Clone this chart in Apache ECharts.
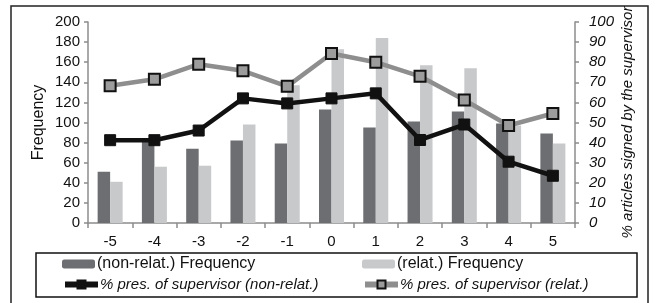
<!DOCTYPE html>
<html>
<head>
<meta charset="utf-8">
<script src="https://cdn.jsdelivr.net/npm/echarts@6/dist/echarts.min.js"></script>
<style>
html,body{margin:0;padding:0;background:#fff;}
#chart{width:657px;height:303px;}
</style>
</head>
<body>
<div id="chart"></div>
<script>
var categories = ['-5', '-4', '-3', '-2', '-1', '0', '1', '2', '3', '4', '5'];
var freqNonRelat = [51, 82, 74, 82, 79, 113, 95, 101, 111, 99, 89];
var freqRelat = [41, 56, 57, 98, 137, 173, 184, 157, 154, 97, 79];
var presNonRelat = [41.2, 41.2, 46, 62, 59.5, 62, 64.5, 41.3, 49, 30.5, 23.5];
var presRelat = [68.3, 71.5, 79, 75.7, 68, 84.3, 80, 73, 61.2, 48.5, 54.5];

var FONT = '"Liberation Sans", Arial, sans-serif';

var chart = echarts.init(document.getElementById('chart'));

// one legend per item so the two columns line up like the original box
function legendAt(name, left, top, isLine) {
	return {
		data: [name],
		left: left,
		top: top,
		padding: 0,
		itemWidth: 33,
		itemHeight: isLine ? 10 : 9,
		itemGap: 0,
		lineStyle: {width: 6},
		textStyle: {
			fontFamily: FONT,
			fontSize: isLine ? 15 : 16,
			color: '#111',
			fontStyle: isLine ? 'italic' : 'normal',
			padding: [0, 0, 0, -3]
		}
	};
}

chart.setOption({
	animation: false,
	grid: {
		left: 88,
		right: 82,
		top: 22,
		bottom: 80
	},
	graphic: [
		{
			type: 'rect',
			shape: {x: 11, y: 6, width: 637, height: 310},
			style: {fill: 'none', stroke: '#222', lineWidth: 1.5}
		},
		{
			type: 'rect',
			shape: {x: 36, y: 253, width: 601, height: 44},
			style: {fill: 'none', stroke: '#111', lineWidth: 1.5}
		}
	],
	legend: [
		legendAt('(non-relat.) Frequency', 62, 256, false),
		legendAt('(relat.) Frequency', 362, 256, false),
		legendAt('% pres. of supervisor (non-relat.)', 62, 277, true),
		legendAt('% pres. of supervisor (relat.)', 362, 277, true)
	],
	xAxis: {
		type: 'category',
		data: categories,
		axisLine: {lineStyle: {color: '#8c8c8c', width: 1.5}},
		axisTick: {show: true, length: 5, lineStyle: {color: '#8c8c8c', width: 1.5}},
		axisLabel: {
			fontFamily: FONT,
			fontSize: 15,
			color: '#111',
			margin: 11
		}
	},
	yAxis: [
		{
			type: 'value',
			min: 0,
			max: 200,
			interval: 20,
			name: 'Frequency',
			nameLocation: 'middle',
			nameGap: 41,
			nameMoveOverlap: false,
			nameTextStyle: {fontFamily: FONT, fontSize: 16, color: '#111'},
			axisLine: {show: true, lineStyle: {color: '#8c8c8c', width: 1.5}},
			axisTick: {show: true, length: 4, lineStyle: {color: '#8c8c8c', width: 1.5}},
			axisLabel: {fontFamily: FONT, fontSize: 15, color: '#111', margin: 8},
			splitLine: {show: false}
		},
		{
			type: 'value',
			min: 0,
			max: 100,
			interval: 10,
			position: 'right',
			name: '% articles signed by the supervisor',
			nameLocation: 'middle',
			nameGap: 45,
			nameRotate: 90,
			nameMoveOverlap: false,
			nameTextStyle: {fontFamily: FONT, fontSize: 15, color: '#111', fontStyle: 'italic'},
			axisLine: {show: true, lineStyle: {color: '#8c8c8c', width: 1.5}},
			axisTick: {show: true, length: 4, lineStyle: {color: '#8c8c8c', width: 1.5}},
			axisLabel: {fontFamily: FONT, fontSize: 15, color: '#111', fontStyle: 'italic', margin: 14},
			splitLine: {show: false}
		}
	],
	series: [
		{
			name: '(non-relat.) Frequency',
			type: 'bar',
			data: freqNonRelat,
			barWidth: 12.5,
			barGap: '0%',
			itemStyle: {color: '#6d6e71'}
		},
		{
			name: '(relat.) Frequency',
			type: 'bar',
			data: freqRelat,
			barWidth: 12.5,
			barGap: '0%',
			itemStyle: {color: '#c8c9cb'}
		},
		{
			name: '% pres. of supervisor (non-relat.)',
			type: 'line',
			yAxisIndex: 1,
			data: presNonRelat,
			symbol: 'rect',
			symbolSize: 11,
			lineStyle: {color: '#111', width: 4.5},
			itemStyle: {color: '#111', borderColor: '#111', borderWidth: 1}
		},
		{
			name: '% pres. of supervisor (relat.)',
			type: 'line',
			yAxisIndex: 1,
			data: presRelat,
			symbol: 'rect',
			symbolSize: 11,
			lineStyle: {color: '#8e8e8e', width: 4.5},
			itemStyle: {color: '#9c9c9c', borderColor: '#111', borderWidth: 2}
		}
	]
});
</script>
</body>
</html>
